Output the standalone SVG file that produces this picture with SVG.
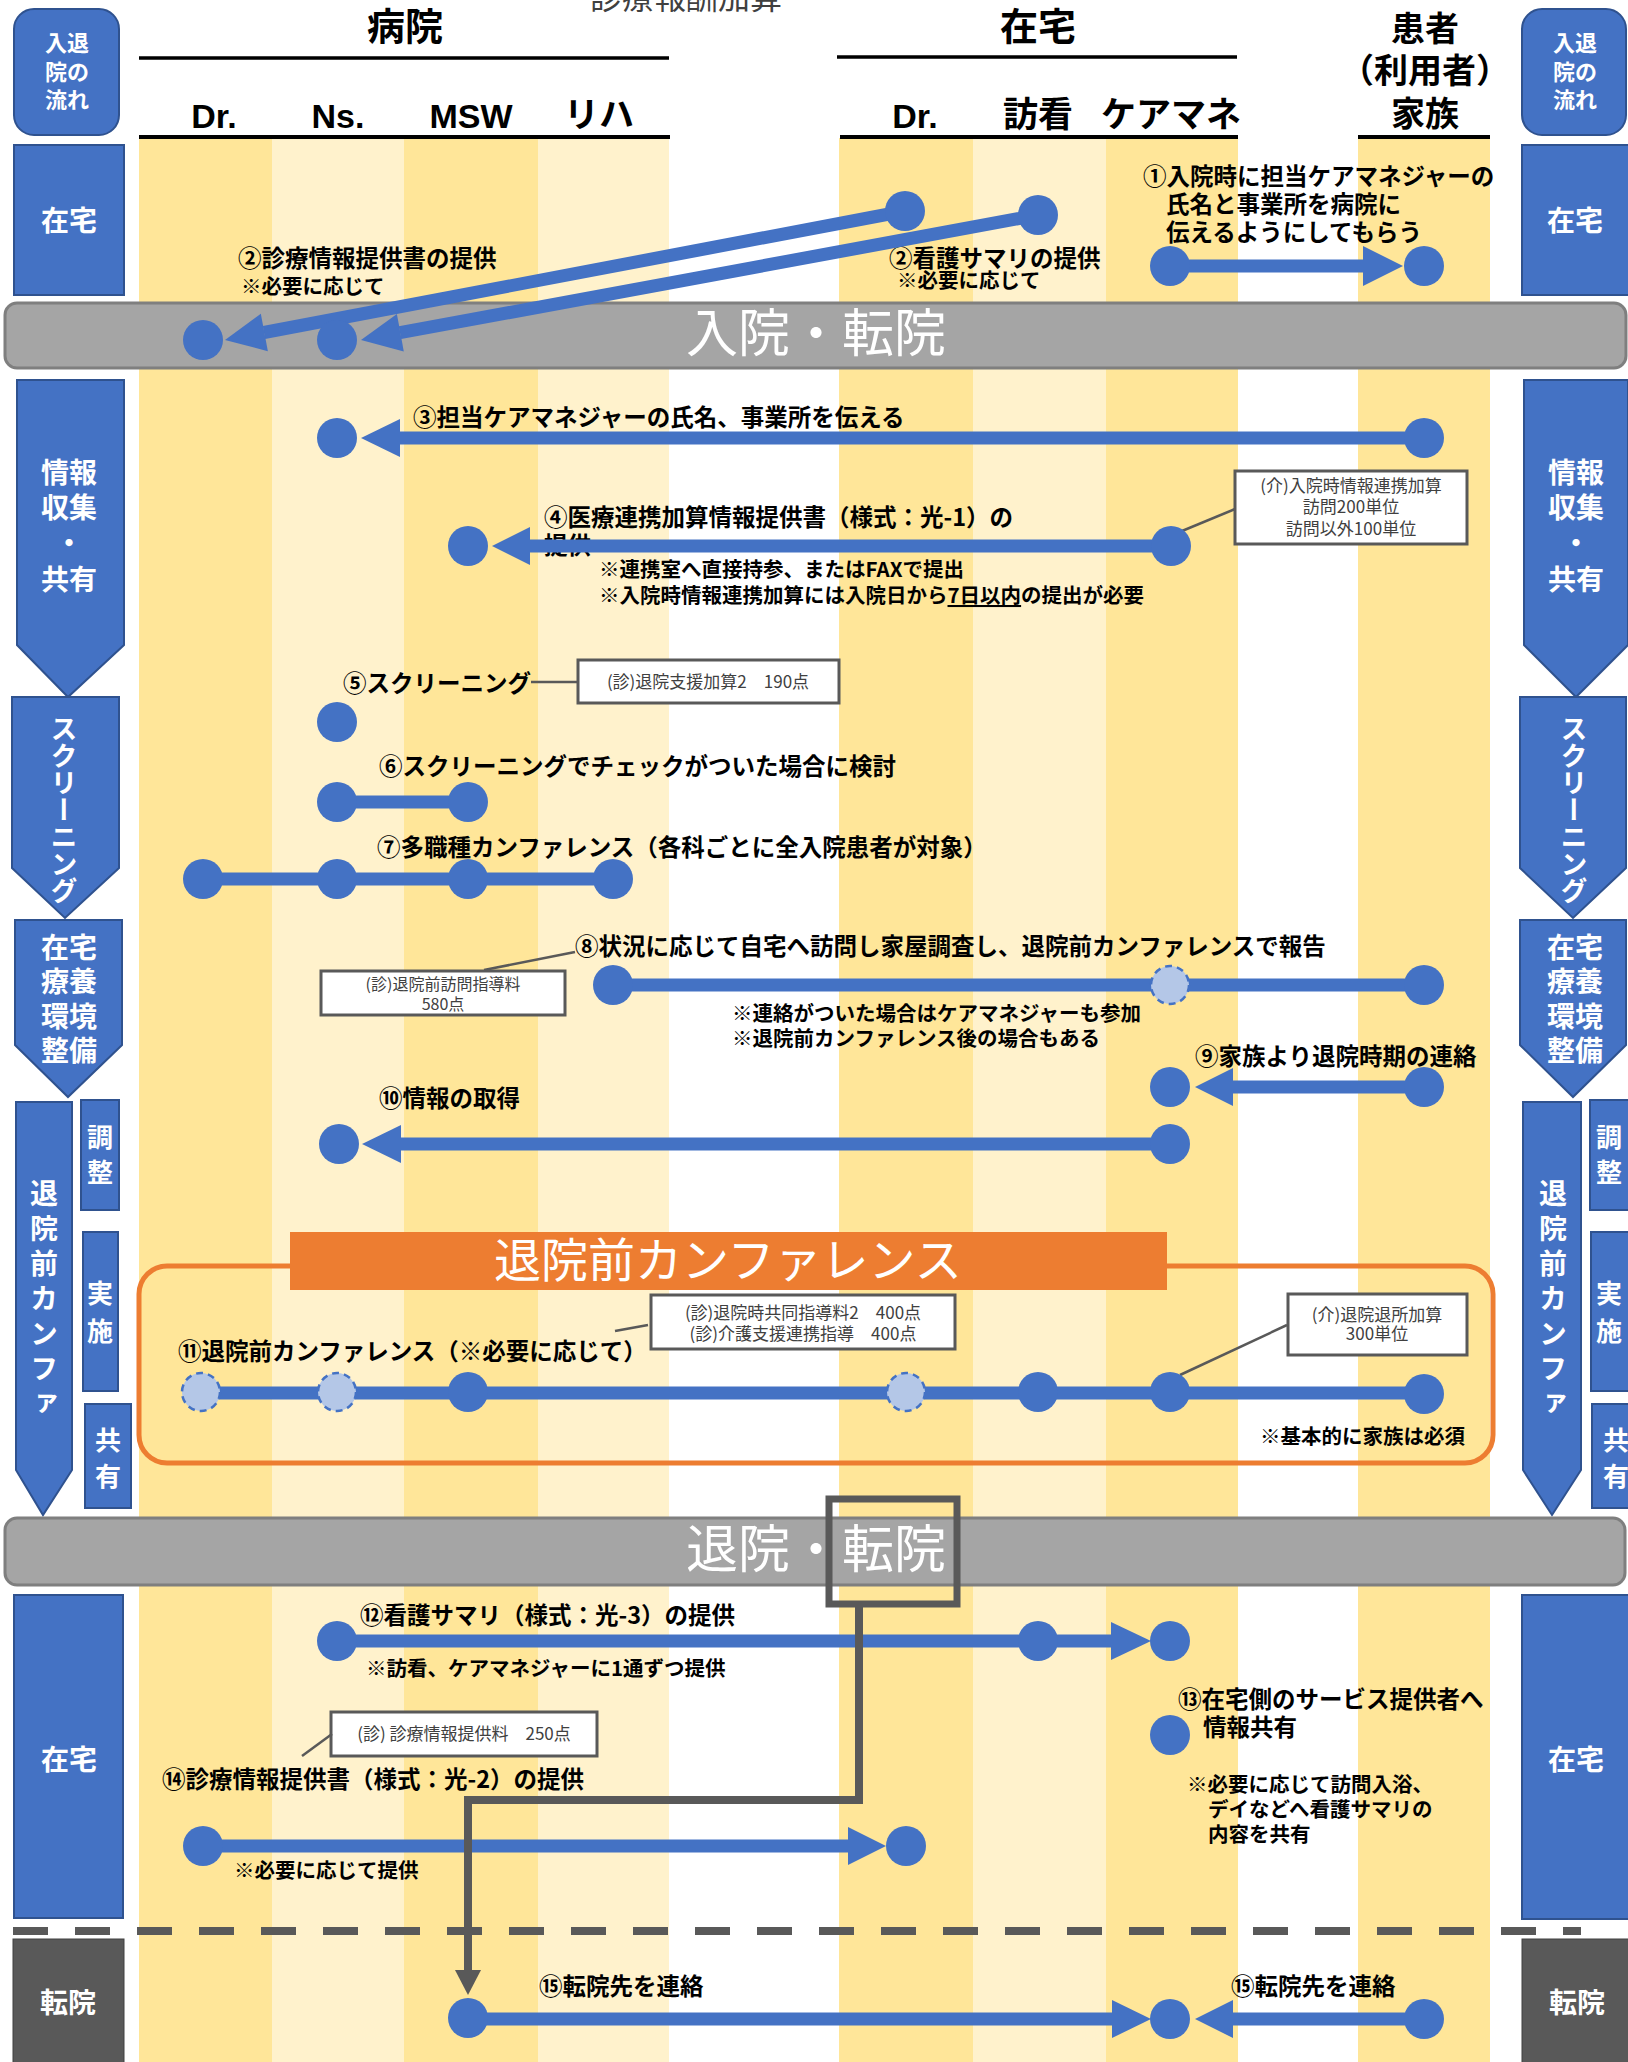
<svg xmlns="http://www.w3.org/2000/svg" width="1628" height="2062" viewBox="0 0 1628 2062">
<defs>
<style>
text{font-family:"Noto Sans CJK JP","Noto Sans CJK SC",sans-serif}
.hd{font-weight:700;font-size:38px;fill:#000;text-anchor:middle}
.ch{font-weight:700;font-size:35px;fill:#000;text-anchor:middle}
.chl{font-family:"Liberation Sans",Arial,sans-serif;font-weight:700;font-size:34px;fill:#000;text-anchor:middle}
.lb{font-weight:700;font-size:23.5px;fill:#000}
.nt{font-weight:700;font-size:20.5px;fill:#000}
.an{font-weight:400;font-size:17px;fill:#404040;text-anchor:middle}
.sc{font-weight:700;font-size:28px;fill:#fff;text-anchor:middle}
.sm{font-weight:700;font-size:22px;fill:#fff;text-anchor:middle}
.vt{font-weight:700;font-size:27px;fill:#fff;text-anchor:middle;writing-mode:vertical-rl}
.bar{fill:#A5A5A5;stroke:#7F7F7F;stroke-width:3}
.bt{font-weight:400;font-size:52px;fill:#fff}
.blue{fill:#4472C4;stroke:#2F528F;stroke-width:2}
.dk{fill:#595959;stroke:#404040;stroke-width:1}
.ln{stroke:#4472C4;stroke-width:13;fill:none}
.ah{fill:#4472C4}
.dot{fill:#4472C4}
.lt{fill:#B4C7E7;stroke:#4472C4;stroke-width:2.5;stroke-dasharray:7 5}
.box{fill:#fff;stroke:#595959;stroke-width:3}
.ld{stroke:#595959;stroke-width:2.5;fill:none}
</style>
</defs>

<g id="lanes">
<rect x="139" y="138" width="133" height="1924" fill="#FFE699"/>
<rect x="272" y="138" width="132" height="1924" fill="#FFF2CC"/>
<rect x="404" y="138" width="134" height="1924" fill="#FFE699"/>
<rect x="538" y="138" width="131" height="1924" fill="#FFF2CC"/>
<rect x="839" y="138" width="134" height="1924" fill="#FFE699"/>
<rect x="973" y="138" width="133" height="1924" fill="#FFF2CC"/>
<rect x="1106" y="138" width="132" height="1924" fill="#FFE699"/>
<rect x="1358" y="138" width="132" height="1924" fill="#FFE699"/>
</g>

<g id="headers">
<text x="686" y="9" style="font-size:32px;fill:#404040" text-anchor="middle">診療報酬加算</text>
<text class="hd" x="405" y="40">病院</text>
<line x1="139" y1="58" x2="669" y2="58" stroke="#000" stroke-width="3.5"/>
<text class="chl" x="214" y="128">Dr.</text>
<text class="chl" x="338" y="128">Ns.</text>
<text class="chl" x="471" y="128">MSW</text>
<text class="ch" x="599" y="127">リハ</text>
<line x1="139" y1="137" x2="670" y2="137" stroke="#000" stroke-width="4"/>
<text class="hd" x="1038" y="40">在宅</text>
<line x1="837" y1="57" x2="1237" y2="57" stroke="#000" stroke-width="3.5"/>
<text class="chl" x="915" y="128">Dr.</text>
<text class="ch" x="1038" y="127">訪看</text>
<text class="ch" x="1171" y="127">ケアマネ</text>
<line x1="840" y1="137" x2="1238" y2="137" stroke="#000" stroke-width="4"/>
<text class="hd" x="1425" y="41" style="font-size:34px">患者</text>
<text class="hd" x="1425" y="83" style="font-size:34px">（利用者）</text>
<text class="hd" x="1425" y="126" style="font-size:34px">家族</text>
<line x1="1358" y1="137" x2="1490" y2="137" stroke="#000" stroke-width="4"/>
</g>

<g id="phase-left">
<rect class="blue" x="14" y="9" width="105" height="126" rx="20"/>
<text class="sm" x="67" y="51">入退</text>
<text class="sm" x="67" y="80">院の</text>
<text class="sm" x="67" y="108">流れ</text>
<rect class="blue" x="14" y="145" width="110" height="150"/>
<text class="sc" x="69" y="231">在宅</text>
<polygon class="blue" points="17,380 124,380 124,645 68,697 17,645"/>
<text class="sc" x="69" y="483">情報</text>
<text class="sc" x="69" y="518">収集</text>
<text class="sc" x="69" y="554">・</text>
<text class="sc" x="69" y="590">共有</text>
<polygon class="blue" points="12,697 119,697 119,868 65,918 12,868"/>
<text class="vt" x="64" y="810">スクリーニング</text>
<polygon class="blue" points="15,920 122,920 122,1045 68,1097 15,1045"/>
<text class="sc" x="69" y="958">在宅</text>
<text class="sc" x="69" y="992">療養</text>
<text class="sc" x="69" y="1027">環境</text>
<text class="sc" x="69" y="1061">整備</text>
<polygon class="blue" points="16,1102 72,1102 72,1470 43,1515 16,1470"/>
<text class="vt" x="44" y="1302" style="font-size:28px;letter-spacing:7px">退院前カンファ</text>
<rect class="blue" x="81" y="1100" width="38" height="110"/>
<text class="sc" x="100" y="1147" style="font-size:26px">調</text>
<text class="sc" x="100" y="1182" style="font-size:26px">整</text>
<rect class="blue" x="83" y="1232" width="35" height="159"/>
<text class="sc" x="100" y="1303" style="font-size:26px">実</text>
<text class="sc" x="100" y="1341" style="font-size:26px">施</text>
<rect class="blue" x="85" y="1404" width="46" height="104"/>
<text class="sc" x="108" y="1450" style="font-size:26px">共</text>
<text class="sc" x="108" y="1486" style="font-size:26px">有</text>
<rect class="blue" x="14" y="1595" width="109" height="323"/>
<text class="sc" x="69" y="1770">在宅</text>
<rect class="dk" x="13" y="1939" width="111" height="130"/>
<text class="sc" x="68" y="2013">転院</text>
</g>

<g id="phase-right">
<rect class="blue" x="1522" y="9" width="104" height="126" rx="20"/>
<text class="sm" x="1575" y="51">入退</text>
<text class="sm" x="1575" y="80">院の</text>
<text class="sm" x="1575" y="108">流れ</text>
<rect class="blue" x="1522" y="145" width="110" height="150"/>
<text class="sc" x="1575" y="231">在宅</text>
<polygon class="blue" points="1524,380 1628,380 1628,645 1576,697 1524,645"/>
<text class="sc" x="1576" y="483">情報</text>
<text class="sc" x="1576" y="518">収集</text>
<text class="sc" x="1576" y="554">・</text>
<text class="sc" x="1576" y="590">共有</text>
<polygon class="blue" points="1520,697 1626,697 1626,868 1573,918 1520,868"/>
<text class="vt" x="1574" y="810">スクリーニング</text>
<polygon class="blue" points="1520,920 1626,920 1626,1045 1573,1097 1520,1045"/>
<text class="sc" x="1575" y="958">在宅</text>
<text class="sc" x="1575" y="992">療養</text>
<text class="sc" x="1575" y="1027">環境</text>
<text class="sc" x="1575" y="1061">整備</text>
<polygon class="blue" points="1523,1102 1581,1102 1581,1470 1552,1515 1523,1470"/>
<text class="vt" x="1553" y="1302" style="font-size:28px;letter-spacing:7px">退院前カンファ</text>
<rect class="blue" x="1590" y="1100" width="45" height="110"/>
<text class="sc" x="1609" y="1147" style="font-size:26px">調</text>
<text class="sc" x="1609" y="1182" style="font-size:26px">整</text>
<rect class="blue" x="1591" y="1232" width="45" height="159"/>
<text class="sc" x="1609" y="1303" style="font-size:26px">実</text>
<text class="sc" x="1609" y="1341" style="font-size:26px">施</text>
<rect class="blue" x="1592" y="1404" width="50" height="104"/>
<text class="sc" x="1616" y="1450" style="font-size:26px">共</text>
<text class="sc" x="1616" y="1486" style="font-size:26px">有</text>
<rect class="blue" x="1522" y="1595" width="110" height="324"/>
<text class="sc" x="1576" y="1770">在宅</text>
<rect class="dk" x="1522" y="1939" width="110" height="130"/>
<text class="sc" x="1577" y="2013">転院</text>
</g>

<g id="bar-admission">
<rect class="bar" x="5" y="303" width="1621" height="65" rx="12"/>
<text class="bt" x="686" y="352">入院・転院</text>
</g>
<g id="bar-discharge">
<rect class="bar" x="5" y="1518" width="1620" height="67" rx="12"/>
<text class="bt" x="686" y="1568">退院・転院</text>
</g>

<g id="conference-frame">
<rect x="139" y="1266" width="1354" height="197" rx="28" fill="none" stroke="#ED7D31" stroke-width="5"/>
<rect x="290" y="1232" width="877" height="58" fill="#ED7D31"/>
<text x="494" y="1277" style="font-size:47px;fill:#fff;font-weight:400">退院前カンファレンス</text>
</g>

<line id="transfer-divider" x1="13" y1="1931" x2="1581" y2="1931" stroke="#595959" stroke-width="8" stroke-dasharray="35 27"/>

<g id="labels">
<text class="lb" x="1143" y="185">①入院時に担当ケアマネジャーの</text>
<text class="lb" x="1166" y="213">氏名と事業所を病院に</text>
<text class="lb" x="1166" y="241">伝えるようにしてもらう</text>
<text class="lb" x="238" y="267">②診療情報提供書の提供</text>
<text class="nt" x="241" y="294">※必要に応じて</text>
<text class="lb" x="889" y="267">②看護サマリの提供</text>
<text class="nt" x="897" y="288">※必要に応じて</text>
<text class="lb" x="413" y="426">③担当ケアマネジャーの氏名、事業所を伝える</text>
<text class="lb" x="544" y="526">④医療連携加算情報提供書（様式：光-1）の</text>
<text class="lb" x="544" y="554">提供</text>
<text class="nt" x="599" y="577">※連携室へ直接持参、またはFAXで提出</text>
<text class="nt" x="599" y="603">※入院時情報連携加算には入院日から<tspan text-decoration="underline">7日以内</tspan>の提出が必要</text>
<text class="lb" x="343" y="692">⑤スクリーニング</text>
<text class="lb" x="379" y="775">⑥スクリーニングでチェックがついた場合に検討</text>
<text class="lb" x="377" y="856">⑦多職種カンファレンス（各科ごとに全入院患者が対象）</text>
<text class="lb" x="575" y="955">⑧状況に応じて自宅へ訪問し家屋調査し、退院前カンファレンスで報告</text>
<text class="nt" x="732" y="1021">※連絡がついた場合はケアマネジャーも参加</text>
<text class="nt" x="732" y="1046">※退院前カンファレンス後の場合もある</text>
<text class="lb" x="1195" y="1065">⑨家族より退院時期の連絡</text>
<text class="lb" x="379" y="1107">⑩情報の取得</text>
<text class="lb" x="178" y="1360">⑪退院前カンファレンス（※必要に応じて）</text>
<text class="nt" x="1260" y="1444">※基本的に家族は必須</text>
<text class="lb" x="360" y="1624">⑫看護サマリ（様式：光-3）の提供</text>
<text class="nt" x="366" y="1676">※訪看、ケアマネジャーに1通ずつ提供</text>
<text class="lb" x="1178" y="1708">⑬在宅側のサービス提供者へ</text>
<text class="lb" x="1203" y="1736">情報共有</text>
<text class="nt" x="1187" y="1792">※必要に応じて訪問入浴、</text>
<text class="nt" x="1208" y="1817">デイなどへ看護サマリの</text>
<text class="nt" x="1208" y="1842">内容を共有</text>
<text class="lb" x="162" y="1788">⑭診療情報提供書（様式：光-2）の提供</text>
<text class="nt" x="234" y="1878">※必要に応じて提供</text>
<text class="lb" x="539" y="1995">⑮転院先を連絡</text>
<text class="lb" x="1231" y="1995">⑮転院先を連絡</text>
</g>

<g id="fee-boxes">
<rect class="box" x="1235" y="471" width="232" height="73"/>
<text class="an" x="1351" y="492">(介)入院時情報連携加算</text>
<text class="an" x="1351" y="513">訪問200単位</text>
<text class="an" x="1351" y="535">訪問以外100単位</text>
<rect class="box" x="578" y="660" width="261" height="43"/>
<text class="an" x="708" y="688">(診)退院支援加算2　190点</text>
<rect class="box" x="321" y="971" width="244" height="44"/>
<text class="an" x="443" y="990" style="font-size:16px">(診)退院前訪問指導料</text>
<text class="an" x="443" y="1010" style="font-size:16px">580点</text>
<rect class="box" x="651" y="1295" width="304" height="54"/>
<text class="an" x="803" y="1319">(診)退院時共同指導料2　400点</text>
<text class="an" x="803" y="1340">(診)介護支援連携指導　400点</text>
<rect class="box" x="1288" y="1294" width="179" height="61"/>
<text class="an" x="1377" y="1321">(介)退院退所加算</text>
<text class="an" x="1377" y="1340">300単位</text>
<rect class="box" x="331" y="1712" width="266" height="44"/>
<text class="an" x="464" y="1740">(診) 診療情報提供料　250点</text>
</g>

<g id="connectors">
<line class="ln" x1="905" y1="211" x2="264" y2="332.5"/>
<polygon class="ah" points="225,340 260.8,313.8 267.9,351.2"/>
<line class="ln" x1="1038" y1="215" x2="400" y2="332.7"/>
<polygon class="ah" points="361,340 396.9,314 403.8,351.4"/>
<line class="ln" x1="1170" y1="266" x2="1365" y2="266"/>
<polygon class="ah" points="1403,266 1363,246 1363,286"/>
<line class="ln" x1="398" y1="438" x2="1424" y2="438"/>
<polygon class="ah" points="361,438 400,419 400,457"/>
<line class="ln" x1="528" y1="546" x2="1171" y2="546"/>
<polygon class="ah" points="492,546 530,527 530,565"/>
<line class="ln" x1="337" y1="802" x2="468" y2="802"/>
<line class="ln" x1="203" y1="879" x2="613" y2="879"/>
<line class="ln" x1="613" y1="985" x2="1424" y2="985"/>
<line class="ln" x1="1231" y1="1087" x2="1424" y2="1087"/>
<polygon class="ah" points="1195,1087 1233,1068 1233,1106"/>
<line class="ln" x1="399" y1="1144" x2="1170" y2="1144"/>
<polygon class="ah" points="362,1144 401,1125 401,1163"/>
<line class="ln" x1="201" y1="1393" x2="1424" y2="1393"/>
<line class="ln" x1="337" y1="1641" x2="1113" y2="1641"/>
<polygon class="ah" points="1151,1641 1111,1622 1111,1660"/>
<line class="ln" x1="203" y1="1846" x2="850" y2="1846"/>
<polygon class="ah" points="886,1846 848,1827 848,1865"/>
<line class="ln" x1="468" y1="2019" x2="1114" y2="2019"/>
<polygon class="ah" points="1151,2019 1112,2000 1112,2038"/>
<line class="ln" x1="1231" y1="2019" x2="1424" y2="2019"/>
<polygon class="ah" points="1195,2019 1233,2000 1233,2038"/>
<line class="ld" x1="1235" y1="509" x2="1182" y2="531"/>
<line class="ld" x1="531" y1="682" x2="578" y2="682"/>
<line class="ld" x1="484" y1="970" x2="575" y2="952"/>
<line class="ld" x1="648" y1="1325" x2="615" y2="1331"/>
<line class="ld" x1="1287" y1="1325" x2="1180" y2="1375"/>
<line class="ld" x1="332" y1="1734" x2="302" y2="1756"/>
<rect x="829" y="1499" width="128" height="105" fill="none" stroke="#595959" stroke-width="7"/>
<path d="M859 1604 V1800 H468 V1972" fill="none" stroke="#595959" stroke-width="8"/>
<polygon points="455,1970 481,1970 468,1995" fill="#595959"/>
</g>

<g id="step1"><circle class="dot" cx="1170" cy="266" r="20"/><circle class="dot" cx="1424" cy="266" r="20"/></g>
<g id="step2"><circle class="dot" cx="905" cy="211" r="20"/><circle class="dot" cx="1038" cy="215" r="20"/><circle class="dot" cx="203" cy="340" r="20"/><circle class="dot" cx="337" cy="340" r="20"/></g>
<g id="step3"><circle class="dot" cx="337" cy="438" r="20"/><circle class="dot" cx="1424" cy="438" r="20"/></g>
<g id="step4"><circle class="dot" cx="468" cy="546" r="20"/><circle class="dot" cx="1171" cy="546" r="20"/></g>
<g id="step5"><circle class="dot" cx="337" cy="722" r="20"/></g>
<g id="step6"><circle class="dot" cx="337" cy="802" r="20"/><circle class="dot" cx="468" cy="802" r="20"/></g>
<g id="step7"><circle class="dot" cx="203" cy="879" r="20"/><circle class="dot" cx="337" cy="879" r="20"/><circle class="dot" cx="468" cy="879" r="20"/><circle class="dot" cx="613" cy="879" r="20"/></g>
<g id="step8"><circle class="dot" cx="613" cy="985" r="20"/><circle class="lt" cx="1170" cy="985" r="19"/><circle class="dot" cx="1424" cy="985" r="20"/></g>
<g id="step9"><circle class="dot" cx="1170" cy="1087" r="20"/><circle class="dot" cx="1424" cy="1087" r="20"/></g>
<g id="step10"><circle class="dot" cx="339" cy="1144" r="20"/><circle class="dot" cx="1170" cy="1144" r="20"/></g>
<g id="step11"><circle class="lt" cx="201" cy="1392" r="19"/><circle class="lt" cx="337" cy="1392" r="19"/><circle class="dot" cx="468" cy="1392" r="20"/><circle class="lt" cx="906" cy="1392" r="19"/><circle class="dot" cx="1038" cy="1392" r="20"/><circle class="dot" cx="1170" cy="1392" r="20"/><circle class="dot" cx="1424" cy="1394" r="20"/></g>
<g id="step12"><circle class="dot" cx="337" cy="1641" r="20"/><circle class="dot" cx="1038" cy="1641" r="20"/><circle class="dot" cx="1170" cy="1641" r="20"/></g>
<g id="step13"><circle class="dot" cx="1170" cy="1735" r="20"/></g>
<g id="step14"><circle class="dot" cx="203" cy="1846" r="20"/><circle class="dot" cx="906" cy="1846" r="20"/></g>
<g id="step15"><circle class="dot" cx="468" cy="2018" r="20"/><circle class="dot" cx="1170" cy="2019" r="20"/><circle class="dot" cx="1424" cy="2019" r="20"/></g>
</svg>
